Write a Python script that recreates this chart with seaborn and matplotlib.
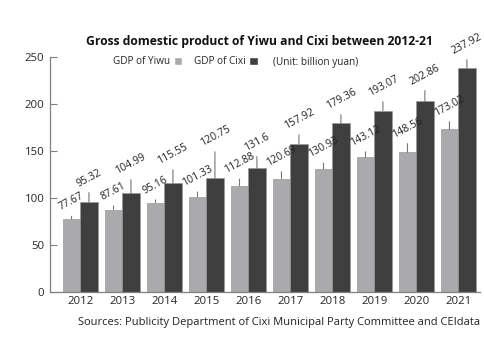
import matplotlib
matplotlib.use("Agg")
import matplotlib.pyplot as plt
from matplotlib.patches import Patch
import seaborn as sns
import pandas as pd

years = ["2012", "2013", "2014", "2015", "2016", "2017", "2018", "2019", "2020", "2021"]
yiwu = [77.67, 87.61, 95.16, 101.33, 112.88, 120.69, 130.93, 143.12, 148.56, 173.02]
cixi = [95.32, 104.99, 115.55, 120.75, 131.6, 157.92, 179.36, 193.07, 202.86, 237.92]
series = ["GDP of Yiwu", "GDP of Cixi"]

# leader line lengths above each bar (pixels)
lead_yiwu = [6, 7, 6, 8, 10, 10, 9, 9, 12, 11]
lead_cixi = [13, 17, 17, 30, 15, 12, 12, 12, 14, 12]

light = "#a9aaad"
dark = "#3f3f3f"
axis_grey = "#808080"

df = pd.DataFrame({
    "year": years * 2,
    "gdp": yiwu + cixi,
    "city": [series[0]] * len(years) + [series[1]] * len(years),
})

sns.set_style("white")
plt.rcParams["font.family"] = ["Open Sans", "DejaVu Sans"]

fig = plt.figure(figsize=(4.84, 3.53), dpi=100)
ax = fig.add_axes([50 / 484, 61 / 353, 430 / 484, 235 / 353])

sns.barplot(data=df, x="year", y="gdp", hue="city", hue_order=series,
            palette=[light, dark], width=0.83, gap=0, ax=ax,
            edgecolor="#999999", linewidth=0.5, legend=False)

ax.set_ylim(0, 250)
ax.set_xlim(-0.72, 9.52)
ax.set_yticks([0, 50, 100, 150, 200, 250])
ax.set_xlabel("")
ax.set_ylabel("")
ax.tick_params(axis="y", direction="in", length=5, width=0.8, color=axis_grey,
               labelsize=8.2, pad=4, left=True)
ax.tick_params(axis="x", length=0, labelsize=8.2, pad=3)
for s in ["top", "right"]:
    ax.spines[s].set_visible(False)
for s in ["left", "bottom"]:
    ax.spines[s].set_color(axis_grey)
    ax.spines[s].set_linewidth(0.9)

# value labels with leader lines
for container, vals, leads in zip(ax.containers, [yiwu, cixi], [lead_yiwu, lead_cixi]):
    for bar, v, ld in zip(container, vals, leads):
        cx = bar.get_x() + bar.get_width() / 2
        ax.annotate(f"{v:g}", xy=(cx, v), xytext=(0, ld * 0.72), textcoords="offset points",
                    ha="center", va="bottom", rotation=28, fontsize=7.6, color="#222222",
                    arrowprops=dict(arrowstyle="-", color="#777777", lw=0.8,
                                    shrinkA=0, shrinkB=0, relpos=(0.5, 0)),
                    annotation_clip=False)

fig.text(259 / 484, 1 - 41 / 353, "Gross domestic product of Yiwu and Cixi between 2012-21",
         ha="center", va="center", fontsize=8.7, fontweight="bold", color="#111111")

handles = [Patch(facecolor=light), Patch(facecolor=dark)]
fig.legend(handles, series, loc="center left", bbox_to_anchor=(113 / 484, 1 - 62 / 353),
           ncol=2, frameon=False, markerfirst=False, fontsize=7.2, handlelength=0.85,
           handleheight=0.85, handletextpad=0.35, columnspacing=1.2, borderpad=0,
           borderaxespad=0)
fig.text(273 / 484, 1 - 62 / 353, "(Unit: billion yuan)", ha="left", va="center", fontsize=7.2)

fig.text(480 / 484, 1 - 323 / 353,
         "Sources: Publicity Department of Cixi Municipal Party Committee and CEIdata",
         ha="right", va="center", fontsize=8.0, color="#222222")

fig.savefig("out.png", dpi=100, facecolor="white")
